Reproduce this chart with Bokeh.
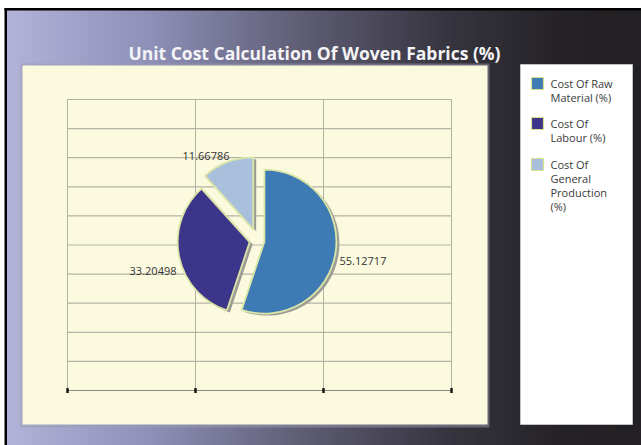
import numpy as np
from bokeh.plotting import figure
from bokeh.models import Range1d
from bokeh.core.properties import value
from bokeh.embed import file_html
from bokeh.resources import INLINE

# ---------------- data ----------------
title_text = "Unit Cost Calculation Of Woven Fabrics (%)"
categories = ["Cost Of Raw Material (%)", "Cost Of Labour (%)", "Cost Of General Production (%)"]
values = [55.12717, 33.20498, 11.66786]
legend_lines = [["Cost Of Raw", "Material (%)"],
                ["Cost Of", "Labour (%)"],
                ["Cost Of", "General", "Production", "(%)"]]

# ---------------- styles ----------------
colors = ["#3e7bb4", "#3d3589", "#a9c0dd"]
explode = [7, 8, 12]
W, H = 641, 445


def Y(y):
    return H - y


p = figure(width=W, height=H, x_range=Range1d(0, W), y_range=Range1d(0, H),
           output_backend="svg", toolbar_location=None, min_border=0)
p.axis.visible = False
p.grid.visible = False
p.outline_line_color = None
p.background_fill_color = "white"
p.border_fill_color = "white"

# gradient background
stops_x = [5, 150, 300, 450, 560, 641]
stops_c = [(178, 180, 218), (142, 144, 184), (96, 94, 118), (54, 52, 62), (38, 35, 40), (35, 32, 36)]
xs = np.arange(5, 641, 2)
lefts, rights, cols = [], [], []
for x0 in xs:
    r = np.interp(x0 + 1, stops_x, [c[0] for c in stops_c])
    g = np.interp(x0 + 1, stops_x, [c[1] for c in stops_c])
    b = np.interp(x0 + 1, stops_x, [c[2] for c in stops_c])
    lefts.append(x0)
    rights.append(x0 + 2.6)
    cols.append("#%02x%02x%02x" % (int(r), int(g), int(b)))
p.quad(left=lefts, right=rights, top=Y(8), bottom=Y(445), fill_color=cols, line_color=None)

# black frame
p.quad(left=4, right=641, top=Y(7.5), bottom=Y(10), fill_color="black", line_color=None)
p.quad(left=4, right=6.5, top=Y(7.5), bottom=Y(445), fill_color="black", line_color=None)

# cream panel + shadow
p.quad(left=20, right=489, top=Y(63), bottom=Y(427), fill_color="#9c9cb0", fill_alpha=0.5, line_color=None)
p.quad(left=22, right=487, top=Y(65), bottom=Y(424), fill_color="#fbfadf", line_color=None)

# grid
gx = np.linspace(67, 451, 4)
gy = np.linspace(99, 390, 11)
p.segment(x0=gx, y0=Y(99), x1=gx, y1=Y(390), line_color="#b3b3a3", line_width=1)
p.segment(x0=67, y0=Y(gy[:-1]), x1=451, y1=Y(gy[:-1]), line_color="#b3b3a3", line_width=1.2)
p.segment(x0=67, y0=Y(390), x1=451, y1=Y(390), line_color="#8a8a80", line_width=1.2)
p.quad(left=gx - 1.2, right=gx + 1.2, top=Y(387.5), bottom=Y(392.5), fill_color="#111111", line_color=None)

# title
p.text(x=[314], y=[Y(52)], text=[title_text], text_font=value("Open Sans"), text_font_style="bold",
       text_font_size="17.5px", text_color="#f4f4f6", text_align="center", text_baseline="middle")

# pie
cx, cy, rad = 257, 240, 72
vals = np.array(values)
frac = vals / vals.sum()
cum = np.cumsum(frac)
prev = np.concatenate([[0], cum[:-1]])
start = np.pi / 2 - 2 * np.pi * prev
end = np.pi / 2 - 2 * np.pi * cum
mid = (start + end) / 2
ex = np.array(explode)
px = cx + ex * np.cos(mid)
py = Y(cy) + ex * np.sin(mid)

p.wedge(x=px + 3, y=py - 2, radius=rad, start_angle=end, end_angle=start,
        fill_color="#9c9c96", line_color=None)
p.wedge(x=px, y=py, radius=rad, start_angle=end, end_angle=start,
        fill_color=colors, line_color="#dbe6a6", line_width=1.8)

# data labels
lab_pos = [(339, 260, "left"), (176, 270, "right"), (229, 155, "right")]
for (lx, ly, al), v in zip(lab_pos, values):
    p.text(x=[lx], y=[Y(ly)], text=["%.5f" % v], text_font=value("Open Sans"),
           text_font_size="11px", text_color="#333333", text_align=al, text_baseline="middle")

# legend
p.quad(left=520, right=632, top=Y(64), bottom=Y(424), fill_color="white", line_color="#cfcfcf", line_width=0.8)
first_line = [83, 123, 164]
line_h = 14
for i, lines in enumerate(legend_lines):
    y0 = first_line[i]
    p.quad(left=531, right=543, top=Y(y0 - 6), bottom=Y(y0 + 6), fill_color=colors[i],
           line_color="#d8e08f", line_width=1.2)
    for j, t in enumerate(lines):
        p.text(x=[550], y=[Y(y0 + j * line_h)], text=[t], text_font=value("Open Sans"),
               text_font_size="11px", text_color="#3a3a3a", text_align="left", text_baseline="middle")

open("out.html", "w").write(file_html(p, INLINE))
